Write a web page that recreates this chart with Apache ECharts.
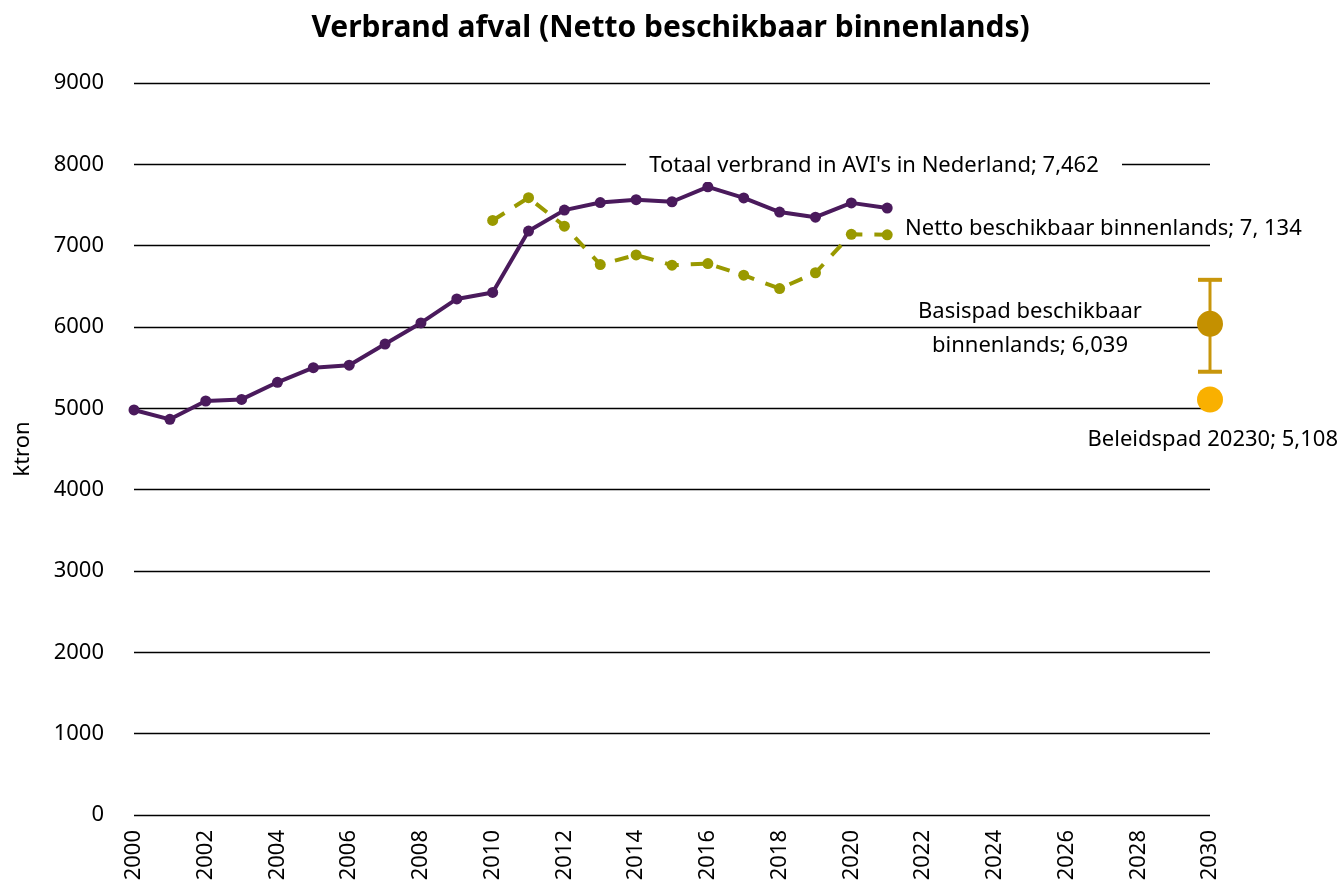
<!DOCTYPE html>
<html>
<head>
<meta charset="utf-8">
<script src="https://cdn.jsdelivr.net/npm/echarts@6/dist/echarts.min.js"></script>
<style>html,body{margin:0;padding:0;background:#fff}#c{width:1341px;height:884px}</style>
</head>
<body>
<div id="c"></div>
<script>
// ---- data ----
const totaalYears = [2000,2001,2002,2003,2004,2005,2006,2007,2008,2009,2010,2011,2012,2013,2014,2015,2016,2017,2018,2019,2020,2021];
const totaalValues = [4980,4865,5090,5110,5320,5500,5530,5790,6050,6345,6425,7180,7437,7530,7566,7540,7723,7587,7413,7350,7526,7462];
const nettoYears = [2010,2011,2012,2013,2014,2015,2016,2017,2018,2019,2020,2021];
const nettoValues = [7310,7590,7240,6768,6886,6760,6780,6637,6472,6667,7140,7134];
const basispadYear = [2030];
const basispadValue = [6039];
const basispadLow = [5450];
const basispadHigh = [6580];
const beleidspadYear = [2030];
const beleidspadValue = [5108];
const yTicks = [0,1000,2000,3000,4000,5000,6000,7000,8000,9000];
const xTicks = [2000,2002,2004,2006,2008,2010,2012,2014,2016,2018,2020,2022,2024,2026,2028,2030];

const FONT = '"Noto Sans", "Open Sans", sans-serif';
const chart = echarts.init(document.getElementById('c'), null, {renderer:'canvas'});

const zip = (a,b) => a.map((v,i)=>[v,b[i]]);

chart.setOption({
  animation:false,
  backgroundColor:'#fff',
  title:{
    text:'Verbrand afval (Netto beschikbaar binnenlands)',
    left:'center', top:8,
    textStyle:{fontFamily:FONT, fontWeight:'bold', fontSize:30, color:'#000'}
  },
  grid:{left:134, right:131, top:83, bottom:69, containLabel:false},
  xAxis:{
    type:'value', min:xTicks[0], max:xTicks[xTicks.length-1], interval:2,
    axisLine:{show:false}, axisTick:{show:false}, splitLine:{show:false},
    axisLabel:{rotate:90, fontFamily:FONT, fontSize:22, color:'#000', margin:15,
      formatter:v=>String(v)}
  },
  yAxis:{
    type:'value', min:yTicks[0], max:yTicks[yTicks.length-1], interval:1000,
    name:'ktron', nameLocation:'middle', nameGap:100, nameRotate:90,
    nameTextStyle:{fontFamily:FONT, fontSize:22, color:'#000'},
    axisLine:{show:false}, axisTick:{show:false},
    splitLine:{lineStyle:{color:'#000', width:1.3}},
    axisLabel:{fontFamily:FONT, fontSize:22, color:'#000', margin:30, formatter:v=>String(v)}
  },
  series:[
    {
      name:'Totaal', type:'line', data:zip(totaalYears,totaalValues),
      symbol:'circle', symbolSize:11, showSymbol:true,
      lineStyle:{color:'#4a1a5c', width:4}, itemStyle:{color:'#4a1a5c'}, z:3
    },
    {
      name:'Netto', type:'line', data:zip(nettoYears,nettoValues),
      symbol:'circle', symbolSize:11,
      lineStyle:{color:'#999900', width:4, type:[14,12]}, itemStyle:{color:'#999900'}, z:4
    },
    {
      name:'errbar', type:'custom', z:5,
      data:basispadYear.map((y,i)=>[y,basispadLow[i],basispadHigh[i]]),
      renderItem:(params,api)=>{
        const lo = api.coord([api.value(0), api.value(1)]);
        const hi = api.coord([api.value(0), api.value(2)]);
        const hw = 12;
        const st = {stroke:'#c8960c', lineWidth:3};
        return {type:'group', children:[
          {type:'line', shape:{x1:lo[0],y1:lo[1],x2:hi[0],y2:hi[1]}, style:st},
          {type:'line', shape:{x1:lo[0]-hw,y1:lo[1],x2:lo[0]+hw,y2:lo[1]}, style:{stroke:'#c8960c', lineWidth:4}},
          {type:'line', shape:{x1:hi[0]-hw,y1:hi[1],x2:hi[0]+hw,y2:hi[1]}, style:{stroke:'#c8960c', lineWidth:4}}
        ]};
      }
    },
    {
      name:'Basispad', type:'scatter', data:zip(basispadYear,basispadValue),
      symbol:'circle', symbolSize:26, itemStyle:{color:'#c49000', opacity:1}, z:6
    },
    {
      name:'Beleidspad', type:'scatter', data:zip(beleidspadYear,beleidspadValue),
      symbol:'circle', symbolSize:26, itemStyle:{color:'#f9b000', opacity:1}, z:6
    }
  ],
  graphic:[
    {type:'rect', shape:{x:626, y:150, width:496, height:32}, style:{fill:'#fff'}, z:10},
    {type:'text', x:874, y:166, z:11, style:{text:"Totaal verbrand in AVI's in Nederland; 7,462", font:'22px '+FONT, fill:'#000', textAlign:'center', textVerticalAlign:'middle'}},
    {type:'text', x:905, y:229, z:11, style:{text:'Netto beschikbaar binnenlands; 7, 134', font:'22px '+FONT, fill:'#000', textAlign:'left', textVerticalAlign:'middle'}},
    {type:'text', x:1030, y:312, z:11, style:{text:'Basispad beschikbaar', font:'22px '+FONT, fill:'#000', textAlign:'center', textVerticalAlign:'middle'}},
    {type:'text', x:1030, y:346, z:11, style:{text:'binnenlands; 6,039', font:'22px '+FONT, fill:'#000', textAlign:'center', textVerticalAlign:'middle'}},
    {type:'text', x:1338, y:440, z:11, style:{text:'Beleidspad 20230; 5,108', font:'22px '+FONT, fill:'#000', textAlign:'right', textVerticalAlign:'middle'}}
  ]
});
</script>
</body>
</html>
